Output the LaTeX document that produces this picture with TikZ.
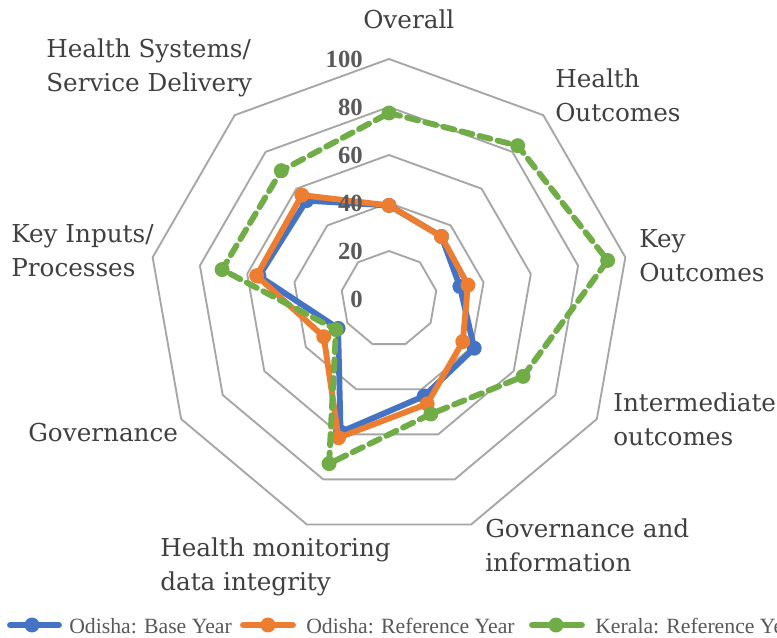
\documentclass[tikz,border=0pt]{standalone}
\usepackage{fontspec}
\setmainfont{DejaVu Serif}
\newfontfamily\lserif{Liberation Serif}

\definecolor{gridgray}{HTML}{A6A6A6}
\definecolor{labgray}{HTML}{404040}
\definecolor{numgray}{HTML}{595959}
\definecolor{odblue}{HTML}{4472C4}
\definecolor{odorange}{HTML}{ED7D31}
\definecolor{krgreen}{HTML}{70AD47}

\tikzset{
  ring/.style={draw=gridgray, line width=1.4pt, line join=round},
  axlabel/.style={anchor=north west, inner sep=0pt, align=left, text=labgray,
    font=\fontsize{18.5}{25.5}\selectfont},
  ringval/.style={anchor=east, inner sep=0pt, text=numgray,
    font=\lserif\bfseries\fontsize{18.5}{18.5}\selectfont},
  legtext/.style={anchor=base west, inner sep=0pt, text=numgray,
    font=\lserif\fontsize{16.3}{16.3}\selectfont},
  odbase/.style={draw=odblue, line width=4.4pt, line join=round},
  odref/.style={draw=odorange, line width=4.4pt, line join=round},
  keref/.style={draw=krgreen, line width=4.4pt, line join=round, line cap=round,
    dash pattern=on 8.5pt off 5.5pt},
  legline/.style={line width=4.4pt, line cap=round},
}

\begin{document}
\begin{tikzpicture}[x=0.75pt, y=0.75pt]
\fill[white] (-389,-338) rectangle (388,299);
\useasboundingbox (-389,-338) rectangle (388,299);

% grid rings, 20 to 100
\foreach \r in {1,...,5}
  \draw[ring] (90:48*\r) \foreach \a in {1,...,8} {-- (90-40*\a:48*\r)} -- cycle;

% axis labels
\node[axlabel] (overall) at (-26,289.5) {Overall};
\node[axlabel] (healthout) at (166,230.5) {Health\\Outcomes};
\node[axlabel] (keyout) at (250,69.5) {Key\\Outcomes};
\node[axlabel] (interout) at (224,-93.5) {Intermediate\\outcomes};
\node[axlabel] (govinfo) at (96,-219.5) {Governance and\\information};
\node[axlabel] (datainteg) at (-229,-238.5) {Health monitoring\\data integrity};
\node[axlabel] (gov) at (-361,-123.5) {Governance};
\node[axlabel] (keyin) at (-378,74.5) {Key Inputs/\\Processes};
\node[axlabel] (hss) at (-343,260.5) {Health Systems/\\Service Delivery};

% series points
\foreach \v [count=\i] in {39,34,30,41,43,59,24.5,55,53.5}
  \coordinate (b\i) at ({130-40*\i}:{2.4*\v});
\foreach \v [count=\i] in {39,34,33.4,35.5,46.5,61.5,31.4,56,56.5}
  \coordinate (o\i) at ({130-40*\i}:{2.4*\v});
\foreach \v [count=\i] in {77.5,83.4,92.5,64.5,51,73,25.5,70.6,69.8}
  \coordinate (k\i) at ({130-40*\i}:{2.4*\v});

\draw[odbase] (b1) \foreach \i in {2,...,9} {-- (b\i)} -- cycle;
\foreach \i in {1,...,9} \fill[odblue] (b\i) circle (5.6pt);
\draw[odref] (o1) \foreach \i in {2,...,9} {-- (o\i)} -- cycle;
\foreach \i in {1,...,9} \fill[odorange] (o\i) circle (5.6pt);
\draw[keref] (k1) \foreach \i in {2,...,9} {-- (k\i)} -- cycle;
\foreach \i in {1,...,9} \fill[krgreen] (k\i) circle (5.6pt);

% ring values
\foreach \v in {0,20,40,60,80,100}
  \node[ringval] (val\v) at (-26,{2.4*\v}) {\v};

% legend
\coordinate (lgb) at (-357,-326);
\coordinate (lgo) at (-121,-326);
\coordinate (lgk) at (167,-326);
\draw[legline, odblue] (lgb) +(-22,0) -- +(27,0);
\fill[odblue] (lgb) circle (5.6pt);
\node[legtext] (lgbtext) at (-320,-334) {Odisha: Base Year};
\draw[legline, odorange] (lgo) +(-25,0) -- +(25,0);
\fill[odorange] (lgo) circle (5.6pt);
\node[legtext] (lgotext) at (-83,-334) {Odisha: Reference Year};
\draw[legline, krgreen] (lgk) +(-24,0) -- +(26,0);
\fill[krgreen] (lgk) circle (5.6pt);
\node[legtext] (lgktext) at (206,-334) {Kerala: Reference Year};
\end{tikzpicture}
\end{document}
